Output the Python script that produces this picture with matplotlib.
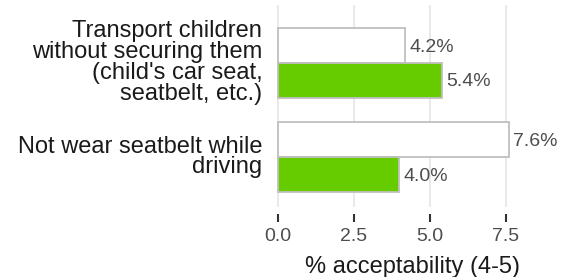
import matplotlib
matplotlib.use("Agg")
import matplotlib.pyplot as plt
import numpy as np

plt.rcParams["font.family"] = ["Liberation Sans", "DejaVu Sans"]

categories = [
    "Transport children\nwithout securing them\n(child's car seat,\nseatbelt, etc.)",
    "Not wear seatbelt while\ndriving",
]
white_vals = [4.2, 7.6]
green_vals = [5.4, 4.0]
xticks = [0.0, 2.5, 5.0, 7.5]
xlabel = "% acceptability (4-5)"

GREEN = "#66CC00"
EDGE = "#BFBFBF"
TEXT = "#4D4D4D"
BAR_H = 0.37

W, H = 562, 277
fig = plt.figure(figsize=(W / 100, H / 100), dpi=100)
# panel box in pixels: left 266, right 521, top 5, bottom 207
ax = fig.add_axes([266 / W, 1 - 207 / H, (521 - 266) / W, (207 - 5) / H])

centers = np.array([1.0, 0.0])
ax.barh(centers + BAR_H / 2, white_vals, height=BAR_H, color="white",
        edgecolor=EDGE, linewidth=1.3, zorder=3)
ax.barh(centers - BAR_H / 2, green_vals, height=BAR_H, color=GREEN,
        edgecolor=EDGE, linewidth=1.3, zorder=3)

for c, v in zip(centers, white_vals):
    ax.text(v + 0.13, c + BAR_H / 2 - 0.02, f"{v:.1f}%", va="center",
            ha="left", fontsize=14, color=TEXT, clip_on=False)
for c, v in zip(centers, green_vals):
    ax.text(v + 0.13, c - BAR_H / 2 - 0.02, f"{v:.1f}%", va="center",
            ha="left", fontsize=14, color=TEXT, clip_on=False)

for c, lab in zip(centers, categories):
    ax.text(-0.5, c, lab, ha="right", va="center", fontsize=17,
            color="#1A1A1A", linespacing=0.93, clip_on=False)

ax.set_xlim(-0.38, 8.0)
ax.set_ylim(-0.53, 1.61)
for x in xticks:
    ax.axvline(x, color="#E5E5E5", linewidth=1.2, zorder=0)

for s in ax.spines.values():
    s.set_visible(False)
ax.spines["bottom"].set_position(("outward", 5))
ax.set_yticks([])
ax.set_xticks(xticks)
ax.set_xticklabels([f"{x:.1f}" for x in xticks])
ax.tick_params(axis="x", length=6, width=1.5, color="#333333", pad=4,
               labelsize=14, labelcolor=TEXT)
ax.set_xlabel(xlabel, fontsize=17, color="#1A1A1A")
ax.xaxis.set_label_coords((520 - 266) / (521 - 266), -0.245)
ax.xaxis.label.set_ha("right")
ax.xaxis.label.set_va("top")

fig.savefig("out.png", dpi=100)
